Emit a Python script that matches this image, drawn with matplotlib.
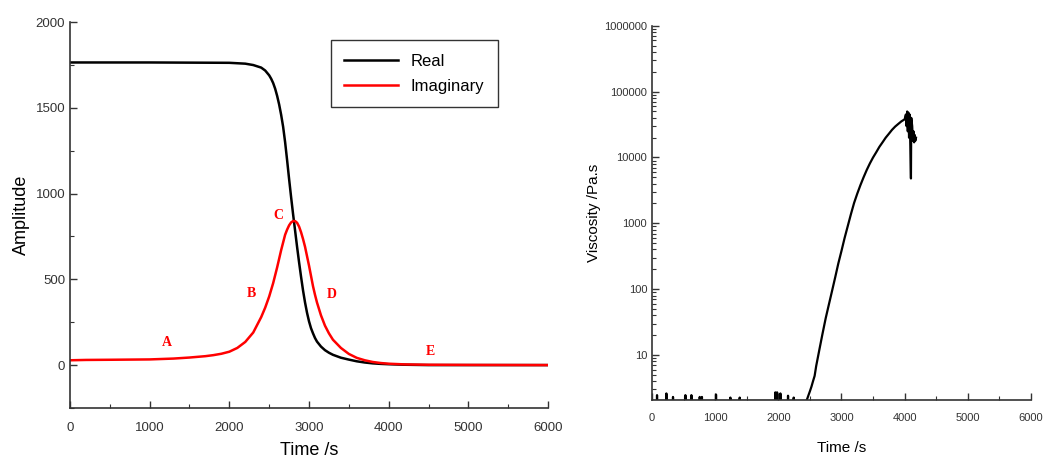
import matplotlib
matplotlib.use('Agg')
import matplotlib.pyplot as plt
from matplotlib.ticker import MultipleLocator, LogLocator, FuncFormatter, NullFormatter

plt.rcParams['font.family'] = ['Liberation Sans', 'DejaVu Sans']

# Left panel: real / imaginary amplitude
real_t = [0, 500, 1000, 1500, 2000, 2200, 2300, 2400, 2450, 2500, 2525, 2550, 2575,
          2600, 2625, 2650, 2675, 2700, 2725, 2750, 2775, 2800, 2825, 2850, 2875,
          2900, 2925, 2950, 2975, 3000, 3025, 3050, 3075, 3100, 3150, 3200, 3250,
          3300, 3400, 3500, 3600, 3700, 3800, 3900, 4000, 4200, 4500, 5000, 6000]
real_v = [1765, 1765, 1765, 1764, 1763, 1758, 1750, 1735, 1718, 1690, 1670, 1645, 1612,
          1570, 1520, 1460, 1390, 1300, 1195, 1085, 980, 880, 785, 690, 600,
          515, 435, 365, 305, 255, 215, 185, 158, 137, 108, 87, 72,
          60, 43, 32, 22, 15, 10, 7, 5, 2, 0, 0, 0]

imag_t = [0, 200, 500, 1000, 1300, 1500, 1700, 1800, 1900, 2000, 2100, 2200, 2300,
          2400, 2450, 2500, 2550, 2600, 2625, 2650, 2675, 2700, 2725, 2750, 2775,
          2800, 2825, 2850, 2875, 2900, 2925, 2950, 2975, 3000, 3025, 3050, 3075,
          3100, 3150, 3200, 3250, 3300, 3400, 3500, 3600, 3700, 3800, 3900, 4000,
          4200, 4500, 5000, 6000]
imag_v = [28, 30, 31, 33, 38, 44, 52, 58, 66, 78, 100, 135, 190,
          280, 335, 400, 478, 570, 620, 670, 715, 760, 790, 815, 832,
          840, 840, 830, 808, 775, 735, 690, 635, 580, 520, 460, 410,
          365, 290, 230, 185, 148, 100, 65, 42, 28, 18, 12, 8,
          4, 2, 1, 0]

point_labels = ['A', 'B', 'C', 'D', 'E']
point_t = [1218, 2278, 2616, 3288, 4529]
point_v = [133, 420, 870, 410, 78]

# Right panel: viscosity
visc_t = [0, 79, 80, 81, 200, 227, 228, 229, 320, 332, 333, 334, 500, 528, 529, 530,
          600, 623, 624, 625, 740, 755, 756, 757, 790, 791, 792, 1000, 1013, 1014, 1015,
          1230, 1240, 1241, 1242, 1380, 1388, 1389, 1390, 1950, 1952, 1953, 1954, 1980,
          1981, 1982, 2030, 2032, 2033, 2034, 2150, 2153, 2154, 2155, 2240, 2243, 2244, 2245,
          2440, 2450, 2475, 2500, 2525, 2550, 2575, 2600, 2650, 2700, 2750, 2800, 2850,
          2900, 2950, 3000, 3050, 3100, 3150, 3200, 3250, 3300, 3350, 3400, 3450, 3500,
          3550, 3600, 3650, 3700, 3750, 3800, 3850, 3900, 3950, 4000, 4020, 4030, 4040,
          4050, 4060, 4070, 4080, 4090, 4100, 4105, 4120, 4130, 4140, 4150, 4160, 4170, 4180]
visc_v = [2.0, 2.0, 2.45, 2.0, 2.0, 2.0, 2.6, 2.0, 2.0, 2.0, 2.3, 2.0, 2.0, 2.0, 2.45, 2.0,
          2.0, 2.0, 2.45, 2.0, 2.0, 2.0, 2.3, 2.0, 2.0, 2.3, 2.0, 2.0, 2.0, 2.5, 2.0,
          2.0, 2.0, 2.25, 2.0, 2.0, 2.0, 2.25, 2.0, 2.0, 2.0, 2.7, 2.0, 2.0,
          2.7, 2.0, 2.0, 2.0, 2.6, 2.0, 2.0, 2.0, 2.4, 2.0, 2.0, 2.0, 2.25, 2.0,
          2.0, 2.05, 2.4, 2.8, 3.3, 4.0, 4.8, 6.8, 12, 21, 36, 58, 93,
          150, 245, 380, 600, 910, 1380, 2040, 2820, 3800, 5000, 6460, 8130, 10000,
          12000, 14500, 17000, 20000, 22900, 26300, 29500, 32400, 35500, 38000, 45000, 30000, 50000,
          25000, 48000, 20000, 45000, 15000, 4800, 40000, 30000, 18000, 25000, 17000, 22000, 18000, 20000]

fig = plt.figure(figsize=(10.44, 4.62), dpi=100)
ax1 = fig.add_axes([0.067, 0.117, 0.458, 0.835])
ax2 = fig.add_axes([0.6245, 0.134, 0.363, 0.810])

spine_col = '#333333'
for ax in (ax1, ax2):
    ax.spines['top'].set_visible(False)
    ax.spines['right'].set_visible(False)
    for s in ('left', 'bottom'):
        ax.spines[s].set_color(spine_col)
        ax.spines[s].set_linewidth(1.2)
    ax.tick_params(which='both', direction='in', colors=spine_col, labelcolor='#333333')
    ax.tick_params(which='major', length=5, width=1)
    ax.tick_params(which='minor', length=3, width=0.8)

ax1.plot(real_t, real_v, color='black', lw=1.8, label='Real')
ax1.plot(imag_t, imag_v, color='red', lw=1.8, label='Imaginary')
for lab, t, v in zip(point_labels, point_t, point_v):
    ax1.text(t, v, lab, color='red', fontsize=10, fontweight='bold',
             family=['Liberation Serif', 'DejaVu Serif'], ha='center', va='center')
ax1.set_xlim(0, 6000)
ax1.set_ylim(-250, 2000)
ax1.xaxis.set_major_locator(MultipleLocator(1000))
ax1.xaxis.set_minor_locator(MultipleLocator(500))
ax1.yaxis.set_major_locator(MultipleLocator(500))
ax1.yaxis.set_minor_locator(MultipleLocator(250))
ax1.tick_params(labelsize=9.5)
ax1.tick_params(axis='x', which='major', pad=10)
ax1.set_xlabel('Time /s', fontsize=13, labelpad=6)
ax1.set_ylabel('Amplitude', fontsize=13)
leg = ax1.legend(loc='upper left', bbox_to_anchor=(0.317, 0.913), bbox_transform=fig.transFigure,
                 fancybox=False, edgecolor='#333333', framealpha=1, handlelength=3.2,
                 borderaxespad=0, borderpad=0.8, labelspacing=0.6, fontsize=12)
leg.get_frame().set_linewidth(1.0)

ax2.plot(visc_t, visc_v, color='black', lw=1.6)
ax2.set_yscale('log')
ax2.set_xlim(0, 6000)
ax2.set_ylim(2.06, 1e6)
ax2.xaxis.set_major_locator(MultipleLocator(1000))
ax2.xaxis.set_minor_locator(MultipleLocator(500))
ax2.yaxis.set_major_locator(LogLocator(base=10, numticks=10))
ax2.yaxis.set_minor_locator(LogLocator(base=10, subs=range(2, 10), numticks=20))
ax2.yaxis.set_major_formatter(FuncFormatter(lambda v, p: f'{int(round(v))}'))
ax2.yaxis.set_minor_formatter(NullFormatter())
ax2.tick_params(labelsize=8)
ax2.tick_params(axis='x', which='major', pad=9)
ax2.set_xlabel('Time /s', fontsize=11, labelpad=13)
ax2.set_ylabel('Viscosity /Pa.s', fontsize=11, labelpad=2)

fig.savefig('out.png', dpi=100)
